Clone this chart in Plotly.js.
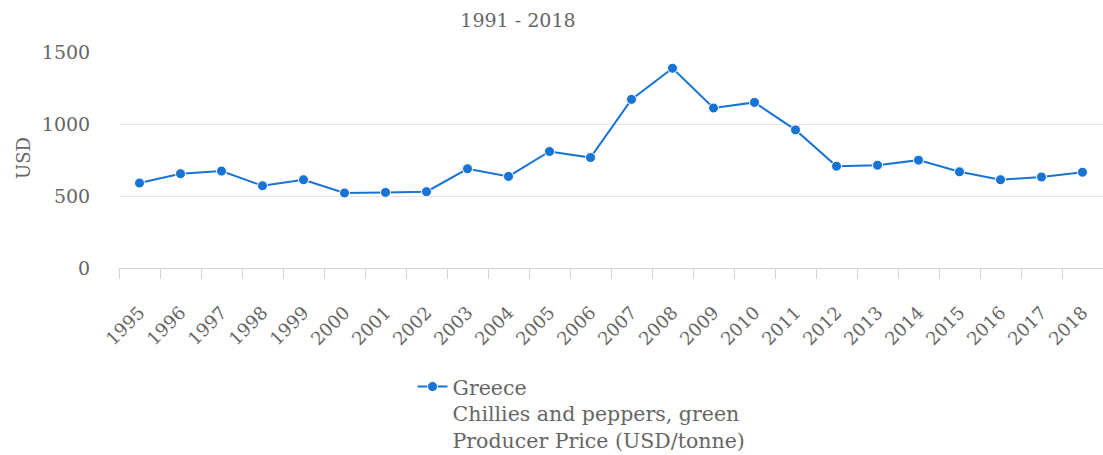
<!DOCTYPE html>
<html>
<head>
<meta charset="utf-8">
<script src="https://cdn.plot.ly/plotly-3.0.1.min.js"></script>
<style>
  html, body { margin: 0; padding: 0; background: #ffffff; }
  #chart { width: 1103px; height: 455px; }
</style>
</head>
<body>
<div id="chart"></div>
<script>
// Producer price of green chillies and peppers in Greece, USD per tonne
const years = ["1995", "1996", "1997", "1998", "1999", "2000", "2001", "2002",
               "2003", "2004", "2005", "2006", "2007", "2008", "2009", "2010",
               "2011", "2012", "2013", "2014", "2015", "2016", "2017", "2018"];
const priceUSD = [590, 655, 673, 571, 613, 521, 525, 530,
                  689, 636, 809, 767, 1171, 1387, 1111, 1150,
                  959, 707, 714, 749, 668, 613, 632, 665];
const yTicks = [0, 500, 1000, 1500];
const seriesName = "Greece<br>Chillies and peppers, green<br>Producer Price (USD/tonne)";
const chartTitle = "1991 - 2018";
const yTitle = "USD";

const textGrey = "#666666";
const axisGrey = "#d4d4d4";
const font = "DejaVu Serif";

const trace = {
  type: "scatter",
  mode: "lines+markers",
  x: years,
  y: priceUSD,
  name: seriesName,
  line: { color: "#1874d4", width: 2 },
  marker: { color: "#1874d4", size: 10, line: { color: "#ffffff", width: 1 } },
  cliponaxis: false,
  hoverinfo: "x+y"
};

const layout = {
  width: 1103,
  height: 455,
  margin: { l: 119, r: 0, t: 52, b: 187, autoexpand: false },
  paper_bgcolor: "#ffffff",
  plot_bgcolor: "#ffffff",
  font: { family: font, color: textGrey, size: 18 },
  title: {
    text: chartTitle,
    font: { family: font, size: 19, color: textGrey },
    x: 0.4696, xanchor: "center", xref: "container",
    y: 0.955, yanchor: "middle", yref: "container"
  },
  xaxis: {
    type: "category",
    range: [-0.5, years.length - 0.5],
    tickangle: -45,
    tickson: "boundaries",
    ticks: "outside",
    ticklen: 10,
    tickcolor: axisGrey,
    tickwidth: 1,
    showline: true,
    linecolor: axisGrey,
    linewidth: 1,
    showgrid: false,
    zeroline: false,
    automargin: false,
    tickfont: { family: font, size: 18, color: textGrey },
    ticklabelstandoff: 26,
    fixedrange: true
  },
  yaxis: {
    range: [0, 1500],
    tickvals: yTicks,
    ticktext: yTicks.map(String),
    showgrid: true,
    gridcolor: "#e6e6e6",
    gridwidth: 1,
    zeroline: false,
    showline: false,
    // invisible ticks keep the labels clear of the plot edge
    ticks: "outside",
    ticklen: 24,
    tickcolor: "rgba(0,0,0,0)",
    tickfont: { family: font, size: 19, color: textGrey },
    automargin: false,
    fixedrange: true
  },
  // vertical axis caption, set left of the tick labels
  annotations: [{
    text: yTitle,
    xref: "paper", yref: "paper",
    x: -0.0965, y: 0.51,
    xanchor: "center", yanchor: "middle",
    textangle: -90,
    showarrow: false,
    font: { family: font, size: 18, color: textGrey }
  }],
  showlegend: true,
  legend: {
    orientation: "v",
    xref: "container", yref: "container",
    x: 0.374, xanchor: "left",
    y: 0.194, yanchor: "top",
    valign: "top",
    font: { family: font, size: 20.5, color: textGrey },
    bgcolor: "rgba(0,0,0,0)",
    itemwidth: 30
  }
};

Plotly.newPlot("chart", [trace], layout, { displayModeBar: false, staticPlot: true });
</script>
</body>
</html>
